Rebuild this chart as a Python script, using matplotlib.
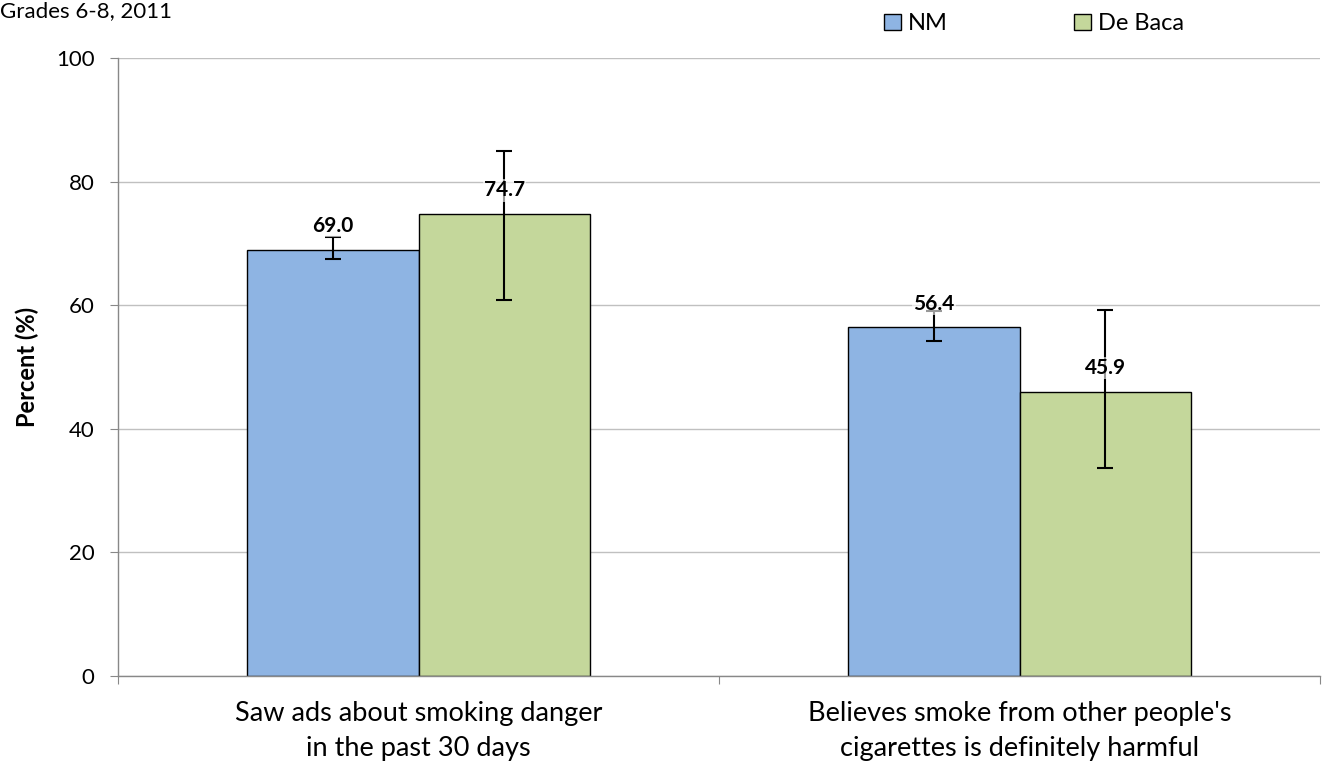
import numpy as np
import matplotlib.pyplot as plt

plt.rcParams['font.family'] = ['Lato', 'DejaVu Sans']

# ---------------------------
# data
# ---------------------------
categories = ['Saw ads about smoking danger\nin the past 30 days',
              "Believes smoke from other people's\ncigarettes is definitely harmful"]
series_names = ['NM', 'De Baca']
nm_vals = [69.0, 56.4]
nm_low = [67.5, 54.2]
nm_high = [71.0, 59.1]
deb_vals = [74.7, 45.9]
deb_low = [60.8, 33.7]
deb_high = [85.0, 59.3]

colors = ['#8EB4E3', '#C4D79B']

fig = plt.figure(figsize=(13.24, 7.63), dpi=100)
ax = fig.add_axes([118 / 1324, 1 - 676 / 763, (1320 - 118) / 1324, (676 - 58) / 763])

x = np.arange(len(categories))
w = 0.285

for i, (vals, lo, hi) in enumerate([(nm_vals, nm_low, nm_high), (deb_vals, deb_low, deb_high)]):
    pos = x + (i - 0.5) * w
    vals = np.array(vals)
    yerr = [vals - np.array(lo), np.array(hi) - vals]
    ax.bar(pos, vals, w, color=colors[i], edgecolor='black', linewidth=1.0,
           label=series_names[i], zorder=2)
    ax.errorbar(pos, vals, yerr=yerr, fmt='none', ecolor='black', elinewidth=1.5,
                capsize=6, capthick=1.5, zorder=3)
    for p, v in zip(pos, vals):
        ax.annotate(f'{v:.1f}', (p, v), xytext=(0, 10), textcoords='offset points',
                    ha='center', va='bottom', fontsize=15, fontweight='bold',
                    bbox=dict(boxstyle='square,pad=0.05', fc='white', ec='none', alpha=0.6),
                    zorder=4)

ax.set_xlim(-0.5, len(categories) - 0.5)
ax.set_ylim(0, 100)
ax.set_yticks(range(0, 101, 20))
ax.set_xticks([-0.5, 0.5, 1.5])
ax.set_xticklabels([])
ax.set_xticks(x, minor=True)
ax.set_xticklabels(categories, minor=True, fontsize=19.5, linespacing=1.5)
ax.tick_params(axis='x', which='minor', length=0, pad=18)
ax.tick_params(axis='x', which='major', length=6, color='#888888')
ax.tick_params(axis='y', length=6, color='#888888', labelsize=16, pad=11)

ax.yaxis.grid(True, color='#C0C0C0', linewidth=1.0, zorder=0)
ax.set_axisbelow(True)
for s in ['top', 'right']:
    ax.spines[s].set_visible(False)
for s in ['left', 'bottom']:
    ax.spines[s].set_color('#888888')
    ax.spines[s].set_linewidth(1.0)

ax.set_ylabel('Percent (%)', fontsize=17, fontweight='bold', labelpad=12)

fig.text(0.0, 1 - 1 / 763, 'Grades 6-8, 2011', fontsize=16, ha='left', va='top')

fig.legend(loc='upper left', bbox_to_anchor=(863 / 1324, 1 + 8 / 763), ncol=2,
           frameon=False, fontsize=17, handlelength=0.7, handleheight=0.7,
           handletextpad=0.3, columnspacing=5.35)

fig.savefig('out.png', dpi=100)
